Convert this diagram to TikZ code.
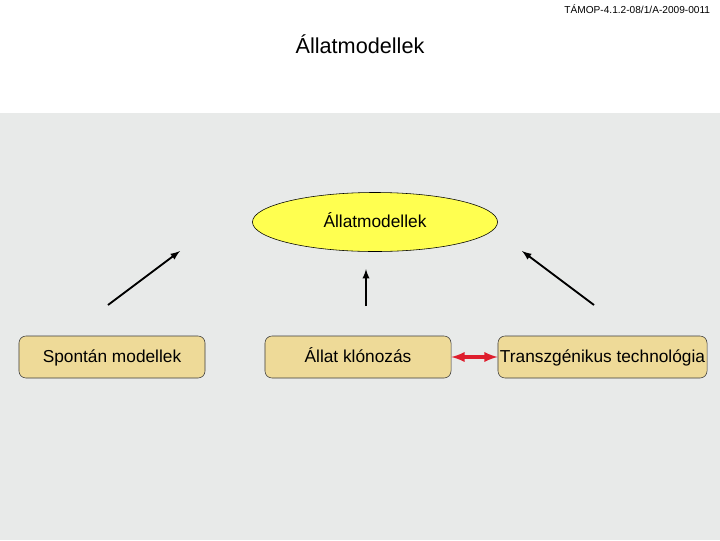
\documentclass[tikz,border=0pt]{standalone}
\usepackage{fontspec}
\setmainfont{Liberation Sans}
\usepackage{tikz}
\usetikzlibrary{shapes,arrows,positioning,calc}
\definecolor{panelgray}{RGB}{232, 234, 233}
\definecolor{ovalyellow}{RGB}{255, 255, 80}
\definecolor{boxtan}{RGB}{238, 218, 152}
\definecolor{boxedge}{RGB}{60, 60, 60}
\definecolor{linkred}{RGB}{222, 30, 45}

\begin{document}
\begin{tikzpicture}[x=0.025cm, y=-0.025cm, >=latex,
    modelbox/.style={draw=boxedge, fill=boxtan, rounded corners=5pt, thin,
        minimum height=1.05cm, inner sep=0pt, text height=1.4ex, text depth=0pt,
        font=\fontsize{12.3}{14}\selectfont},
    uparrow/.style={->, line width=1.3pt}]
    \useasboundingbox (0,0) rectangle (720,540);
    % Background panel
    \fill[panelgray] (0,113) rectangle (720,540);

    % Header and title
    \node[anchor=east, font=\fontsize{7.2}{8}\selectfont] (header) at (715,9) {TÁMOP-4.1.2-08/1/A-2009-0011};
    \node[font=\fontsize{15.4}{18}\selectfont] (title) at (360,44) {Állatmodellek};

    % Central oval
    \node[ellipse, draw=black, fill=ovalyellow, thin, minimum width=6.125cm, minimum height=1.475cm,
        inner sep=0pt, text height=1.4ex, text depth=0pt,
        font=\fontsize{12.3}{14}\selectfont] (oval) at (375,222) {Állatmodellek};

    % Model boxes
    \node[modelbox, minimum width=4.65cm] (spontan) at (112,357) {Spontán modellek};
    \node[modelbox, minimum width=4.65cm] (klonozas) at (358,357) {Állat klónozás};
    \node[modelbox, minimum width=5.225cm] (transzgen) at (602.5,357) {Transzgénikus technológia};

    % Arrows towards the oval
    \coordinate (leftfoot) at (108,305);
    \coordinate (lefthead) at (180,251);
    \coordinate (midfoot) at (366,306);
    \coordinate (midhead) at (366,269);
    \coordinate (rightfoot) at (594,305);
    \coordinate (righthead) at (522,251);
    \draw[uparrow] (leftfoot) -- (lefthead);
    \draw[uparrow] (midfoot) -- (midhead);
    \draw[uparrow] (rightfoot) -- (righthead);

    % Link between cloning and transgenic technology
    \draw[<->, line width=2.2pt, color=linkred] (klonozas.east) -- (transzgen.west);
\end{tikzpicture}
\end{document}
